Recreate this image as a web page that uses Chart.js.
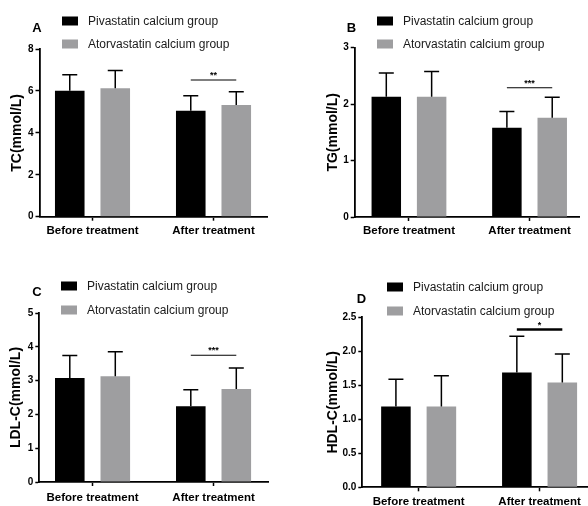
<!DOCTYPE html>
<html>
<head>
<meta charset="utf-8">
<script src="https://cdn.jsdelivr.net/npm/chart.js"></script>
<style>
html, body { margin: 0; padding: 0; background: #fff; width: 588px; height: 506px; overflow: hidden; position: relative; }
canvas { position: absolute; }
</style>
</head>
<body>
<canvas id="tc" width="294" height="253" style="left:0;top:0"></canvas>
<canvas id="tg" width="294" height="253" style="left:294px;top:0"></canvas>
<canvas id="ldl" width="294" height="265" style="left:0;top:253px"></canvas>
<canvas id="hdl" width="320" height="265" style="left:294px;top:253px"></canvas>
<script>
const categories = ['Before treatment', 'After treatment'];
const groups = ['Pivastatin calcium group', 'Atorvastatin calcium group'];
const groupColors = ['#000000', '#9e9ea0'];

// TC (mmol/L), mean and SD
const tcPiva = [6.01, 5.06];
const tcPivaSD = [0.76, 0.71];
const tcAtor = [6.13, 5.33];
const tcAtorSD = [0.84, 0.63];

// TG
const tgPiva = [2.13, 1.58];
const tgPivaSD = [0.42, 0.29];
const tgAtor = [2.13, 1.76];
const tgAtorSD = [0.45, 0.36];

// LDL-C
const ldlPiva = [3.08, 2.24];
const ldlPivaSD = [0.66, 0.49];
const ldlAtor = [3.13, 2.75];
const ldlAtorSD = [0.72, 0.62];

// HDL-C
const hdlPiva = [1.19, 1.69];
const hdlPivaSD = [0.40, 0.53];
const hdlAtor = [1.19, 1.54];
const hdlAtorSD = [0.45, 0.42];

// significance bar over "After treatment": height and label
const sigHeights = [6.52, 2.29, 3.75, 2.32];
const sigLabels = ['**', '***', '***', '*'];

const family = '"Liberation Sans", Arial, Helvetica, sans-serif';
const xAxisHeight = 28;

function makePanel(id, p) {
    const canvas = document.getElementById(id);
    const W = canvas.width, H = canvas.height;

    const extras = {
        id: 'extras',
        afterDatasetsDraw(chart) {
            const c = chart.ctx;
            const y = chart.scales.y;
            c.save();
            c.strokeStyle = '#000';
            c.lineWidth = 1.5;
            // error bars (upper only)
            p.sd.forEach((sds, di) => {
                chart.getDatasetMeta(di).data.forEach((bar, i) => {
                    const top = y.getPixelForValue(p.values[di][i] + sds[i]);
                    c.beginPath();
                    c.moveTo(bar.x, bar.y);
                    c.lineTo(bar.x, top);
                    c.moveTo(bar.x - 7.5, top);
                    c.lineTo(bar.x + 7.5, top);
                    c.stroke();
                });
            });
            // significance line
            const a = chart.getDatasetMeta(0).data[1];
            const b = chart.getDatasetMeta(1).data[1];
            const sy = y.getPixelForValue(p.sigAt);
            c.lineWidth = p.sigWidth;
            c.beginPath();
            c.moveTo(a.x, sy);
            c.lineTo(b.x, sy);
            c.stroke();
            c.fillStyle = '#000';
            c.font = 'bold 9px ' + family;
            c.textAlign = 'center';
            c.textBaseline = 'alphabetic';
            c.fillText(p.sigText, (a.x + b.x) / 2, sy - 2);
            c.restore();
        },
        afterDraw(chart) {
            const c = chart.ctx;
            c.save();
            // panel letter
            c.fillStyle = '#000';
            c.font = 'bold 13px ' + family;
            c.textAlign = 'center';
            c.textBaseline = 'middle';
            c.fillText(p.letter, p.letterX, p.letterY);
            // legend
            c.textAlign = 'left';
            c.font = '12px ' + family;
            groups.forEach((g, i) => {
                c.fillStyle = groupColors[i];
                c.fillRect(p.legendX, p.legendY[i] - 4.5, 16, 9);
                c.fillStyle = '#1a1a1a';
                c.fillText(g, p.legendX + 26, p.legendY[i] + 0.5);
            });
            c.restore();
        }
    };

    return new Chart(canvas, {
        type: 'bar',
        data: {
            datasets: groups.map((g, di) => ({
                label: g,
                data: categories.map((cat, i) => ({ x: i, y: p.values[di][i] })),
                backgroundColor: groupColors[di],
                borderWidth: 0,
                categoryPercentage: 0.752,
                barPercentage: 0.65
            }))
        },
        options: {
            responsive: false,
            animation: false,
            devicePixelRatio: 1,
            layout: {
                padding: { left: p.padL, top: p.area.t, right: W - p.area.r, bottom: H - p.area.b - xAxisHeight }
            },
            plugins: { legend: { display: false }, tooltip: { enabled: false } },
            scales: {
                x: {
                    type: 'linear',
                    offset: false,
                    min: p.xMin,
                    max: p.xMax,
                    afterBuildTicks: s => { s.ticks = categories.map((cat, i) => ({ value: i })); },
                    afterFit: s => { s.height = xAxisHeight; },
                    border: { color: '#000', width: 1.8 },
                    grid: { offset: false, drawOnChartArea: false, drawTicks: true, tickLength: 4, tickWidth: 1.5, tickColor: '#000' },
                    ticks: {
                        callback: v => categories[v],
                        color: '#000',
                        font: { family: family, size: 11.5, weight: 'bold' },
                        padding: p.xPad,
                        maxRotation: 0,
                        autoSkip: false
                    }
                },
                y: {
                    min: 0,
                    max: p.yMax,
                    afterFit: s => { s.width = p.area.l - p.padL; },
                    border: { color: '#000', width: 1.8 },
                    grid: { drawOnChartArea: false, drawTicks: true, tickLength: 4, tickWidth: 1.5, tickColor: '#000' },
                    ticks: {
                        stepSize: p.yStep,
                        callback: v => p.decimals ? v.toFixed(1) : v,
                        color: '#000',
                        font: { family: family, size: 10, weight: 'bold' },
                        padding: 2
                    },
                    title: {
                        display: true,
                        text: p.yTitle,
                        color: '#000',
                        font: { family: family, size: 14, weight: 'bold' },
                        padding: 0
                    }
                }
            }
        },
        plugins: [extras]
    });
}

makePanel('tc', {
    values: [tcPiva, tcAtor], sd: [tcPivaSD, tcAtorSD],
    sigAt: sigHeights[0], sigText: sigLabels[0], sigWidth: 1.2,
    yMax: 8, yStep: 2, decimals: false, yTitle: 'TC(mmol/L)',
    area: { l: 39.5, t: 49, r: 267, b: 216.7 }, padL: 9, xMin: -0.438, xMax: 1.442, xPad: 3,
    letter: 'A', letterX: 37, letterY: 28, legendX: 62, legendY: [21, 44]
});

makePanel('tg', {
    values: [tgPiva, tgAtor], sd: [tgPivaSD, tgAtorSD],
    sigAt: sigHeights[1], sigText: sigLabels[1], sigWidth: 1.2,
    yMax: 3, yStep: 1, decimals: false, yTitle: 'TG(mmol/L)',
    area: { l: 60.7, t: 47.7, r: 285, b: 217 }, padL: 30.6, xMin: -0.45, xMax: 1.41, xPad: 3,
    letter: 'B', letterX: 57.5, letterY: 28, legendX: 83, legendY: [21, 44]
});

makePanel('ldl', {
    values: [ldlPiva, ldlAtor], sd: [ldlPivaSD, ldlAtorSD],
    sigAt: sigHeights[2], sigText: sigLabels[2], sigWidth: 1.2,
    yMax: 5, yStep: 1, decimals: false, yTitle: 'LDL-C(mmol/L)',
    area: { l: 39.3, t: 60, r: 268, b: 229 }, padL: 8, xMin: -0.44, xMax: 1.45, xPad: 5,
    letter: 'C', letterX: 37, letterY: 39, legendX: 61, legendY: [33, 57]
});

makePanel('hdl', {
    values: [hdlPiva, hdlAtor], sd: [hdlPivaSD, hdlAtorSD],
    sigAt: sigHeights[3], sigText: sigLabels[3], sigWidth: 2.5,
    yMax: 2.5, yStep: 0.5, decimals: true, yTitle: 'HDL-C(mmol/L)',
    area: { l: 68.3, t: 64.3, r: 300, b: 234.3 }, padL: 30.6, xMin: -0.466, xMax: 1.45, xPad: 4,
    letter: 'D', letterX: 67.5, letterY: 46, legendX: 93, legendY: [34, 58]
});
</script>
</body>
</html>
